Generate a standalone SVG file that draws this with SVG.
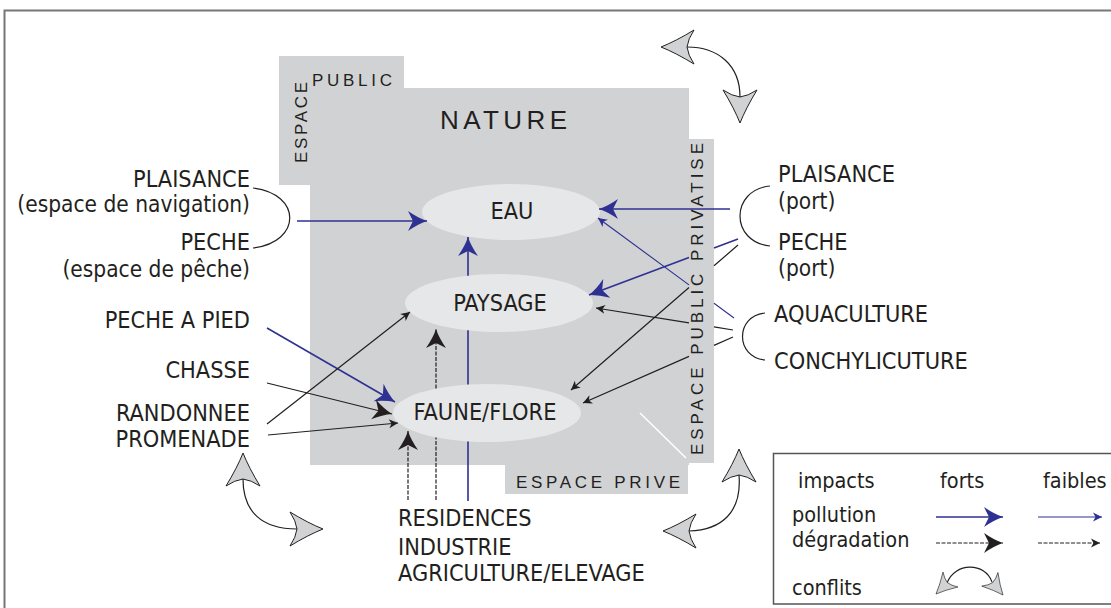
<svg xmlns="http://www.w3.org/2000/svg" xmlns:xlink="http://www.w3.org/1999/xlink" width="1111" height="608" viewBox="0 0 1111 608">
<style>
.t{font-family:"DejaVu Sans Condensed","DejaVu Sans","Liberation Sans",sans-serif;font-stretch:condensed;font-size:23.3px;fill:#231f20}
.lc{font-size:22.5px}
.lg{font-size:21.5px}
.sp{font-family:"Liberation Sans","Open Sans",sans-serif;font-size:17px;fill:#231f20}
.bs{stroke:#2e3192;stroke-width:1.6;fill:none}
.bw{stroke:#2e3192;stroke-width:1.1;fill:none}
.ks{stroke:#231f20;stroke-width:1.2;fill:none}
.kd{stroke:#231f20;stroke-width:1.2;fill:none;stroke-dasharray:4 1.5}
.br{stroke:#231f20;stroke-width:1.2;fill:none}
.node{fill:#e6e7e8}
.bg{fill:#d1d2d4}
</style>
<defs>
<marker id="hb" markerUnits="userSpaceOnUse" orient="auto" overflow="visible" markerWidth="1" markerHeight="1"><path d="M0,0 Q-9,-3 -19,-10 L-14,0 L-19,10 Q-9,3 0,0 Z" fill="#2e3192"/></marker>
<marker id="hbs" markerUnits="userSpaceOnUse" orient="auto" overflow="visible" markerWidth="1" markerHeight="1"><path d="M0,0 L-9,-4.5 L-6.5,0 L-9,4.5 Z" fill="#2e3192"/></marker>
<marker id="hk" markerUnits="userSpaceOnUse" orient="auto" overflow="visible" markerWidth="1" markerHeight="1"><path d="M0,0 Q-9,-3 -19,-10 L-14,0 L-19,10 Q-9,3 0,0 Z" fill="#231f20"/></marker>
<marker id="hks" markerUnits="userSpaceOnUse" orient="auto" overflow="visible" markerWidth="1" markerHeight="1"><path d="M0,0 L-9,-4.5 L-6.5,0 L-9,4.5 Z" fill="#231f20"/></marker>
<path id="ch" d="M0,0 Q-15,-6 -33,-17 Q-27,-8 -26,0 Q-27,8 -33,17 Q-15,6 0,0 Z" fill="#d1d2d4" stroke="#231f20" stroke-width="1"/>
</defs>
<rect width="1111" height="608" fill="#fff"/>
<path d="M4.5,608 V10.5 H1111" fill="none" stroke="#777" stroke-width="2"/>

<g id="background">
<rect class="bg" x="279" y="56" width="125" height="129"/>
<rect class="bg" x="310" y="88" width="379" height="377"/>
<rect class="bg" x="689" y="139" width="25" height="324"/>
<rect class="bg" x="505" y="464" width="183" height="30"/>
<line x1="640" y1="413" x2="686" y2="458" stroke="#fff" stroke-width="1.5"/>
<text class="sp" x="312" y="86" textLength="80" lengthAdjust="spacing">PUBLIC</text>
<text class="sp" transform="translate(307,163) rotate(-90)" textLength="81" lengthAdjust="spacing">ESPACE</text>
<text class="sp" style="font-size:26px" x="440" y="129" textLength="127" lengthAdjust="spacing">NATURE</text>
<text class="sp" transform="translate(703,455) rotate(-90)" textLength="312" lengthAdjust="spacing">ESPACE PUBLIC PRIVATISE</text>
<text class="sp" x="516" y="488" textLength="164" lengthAdjust="spacing">ESPACE PRIVE</text>
</g>

<g id="node-eau"><ellipse class="node" cx="511" cy="212" rx="89" ry="28"/><text class="t" x="512" y="219" text-anchor="middle">EAU</text></g>
<g id="node-paysage"><ellipse class="node" cx="499" cy="303" rx="94" ry="29"/><text class="t" x="500" y="311" text-anchor="middle">PAYSAGE</text></g>
<g id="node-faune"><ellipse class="node" cx="487" cy="413" rx="94" ry="29"/><text class="t" x="485" y="420" text-anchor="middle">FAUNE/FLORE</text></g>

<g id="labels-left" class="t" text-anchor="end">
<text x="250" y="187">PLAISANCE</text>
<text class="lc" x="250" y="212">(espace de navigation)</text>
<text x="250" y="250">PECHE</text>
<text class="lc" x="250" y="277">(espace de pêche)</text>
<text x="250" y="328">PECHE A PIED</text>
<text x="250" y="378">CHASSE</text>
<text x="250" y="421">RANDONNEE</text>
<text x="250" y="447">PROMENADE</text>
</g>
<g id="labels-right" class="t">
<text x="778" y="182">PLAISANCE</text>
<text class="lc" x="778" y="209">(port)</text>
<text x="778" y="250">PECHE</text>
<text class="lc" x="778" y="276">(port)</text>
<text x="774" y="322">AQUACULTURE</text>
<text x="774" y="369">CONCHYLICUTURE</text>
</g>
<g id="labels-bottom" class="t">
<text x="398" y="526">RESIDENCES</text>
<text x="398" y="555">INDUSTRIE</text>
<text x="398" y="581">AGRICULTURE/ELEVAGE</text>
</g>

<g id="brackets">
<path class="br" d="M253,188 C302,194 302,242 253,248"/>
<path class="br" d="M770,186 C730,190 730,242 770,246"/>
<path class="br" d="M765,313 C735,316 735,357 765,360"/>
</g>

<g id="connectors">
<path class="bs" d="M297,221 L427,221" marker-end="url(#hb)"/>
<path class="bs" d="M730,209 L599,209" marker-end="url(#hb)"/>
<path class="bs" d="M738,239 L714,248 M689,257.4 L589,295" marker-end="url(#hb)"/>
<path class="bs" d="M267,328 L395,402" marker-end="url(#hb)"/>
<path class="bs" d="M468,501 L468,441.4 M468,384.6 L468,330.3 M468,275.7 L468,237" marker-end="url(#hb)"/>
<path class="bw" d="M734,318 L714,303.3 M689,284.9 L598,218" marker-end="url(#hbs)"/>
<path class="ks" d="M267,424 L410,312" marker-end="url(#hks)"/>
<path class="ks" d="M268,435 L398,423" marker-end="url(#hks)"/>
<path class="ks" d="M738,245 L714,265.8 M689,287.5 L571,390" marker-end="url(#hks)"/>
<path class="ks" d="M733,330 L714,326.9 M689,322.9 L596,308" marker-end="url(#hks)"/>
<path class="ks" d="M733,337 L714,345.4 M689,356.4 L583,403" marker-end="url(#hks)"/>
<path class="ks" d="M267,383 L392,414" marker-end="url(#hk)"/>
<path class="kd" d="M408,500 L408,431" marker-end="url(#hk)"/>
<path class="kd" d="M436,500 L436,437.4 M436,388.6 L436,329" marker-end="url(#hk)"/>
</g>

<g id="conflicts">
<path class="br" d="M687,47 C718,47 740,65 740,97"/>
<use xlink:href="#ch" transform="translate(661,47) rotate(180)"/>
<use xlink:href="#ch" transform="translate(740,123) rotate(90)"/>
<path class="br" d="M243,479 C243,512 262,529 297,529"/>
<use xlink:href="#ch" transform="translate(243,453) rotate(-90)"/>
<use xlink:href="#ch" transform="translate(323,529)"/>
<path class="br" d="M739,475 C742,512 722,530 689,531"/>
<use xlink:href="#ch" transform="translate(739,449) rotate(-90)"/>
<use xlink:href="#ch" transform="translate(663,531) rotate(180)"/>
</g>

<g id="legend">
<rect x="773.5" y="453.5" width="360" height="150.5" fill="none" stroke="#555" stroke-width="1.5"/>
<g class="t lg">
<text x="798" y="488">impacts</text>
<text x="940" y="488">forts</text>
<text x="1043" y="488">faibles</text>
<text x="792" y="522">pollution</text>
<text x="792" y="547">dégradation</text>
<text x="792" y="595">conflits</text>
</g>
<path class="bs" d="M936,517 L1003,517" marker-end="url(#hb)"/>
<path class="bw" d="M1038,517 L1102,517" marker-end="url(#hbs)"/>
<path class="kd" d="M936,543 L1003,543" marker-end="url(#hk)"/>
<path class="kd" d="M1038,543 L1100,543" marker-end="url(#hks)"/>
<path class="br" d="M947,583 C955,562 985,562 992,582"/>
<use xlink:href="#ch" transform="translate(936,594) rotate(135) scale(0.62)"/>
<use xlink:href="#ch" transform="translate(1003,595) rotate(50) scale(0.62)"/>
</g>
</svg>
